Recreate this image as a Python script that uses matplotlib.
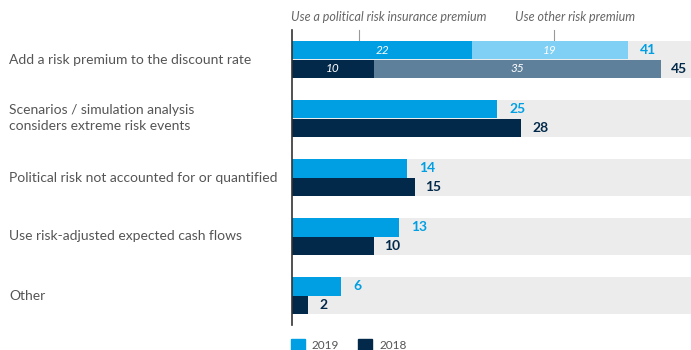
import numpy as np
import matplotlib.pyplot as plt
from matplotlib.patches import Patch

plt.rcParams['font.family'] = ['Lato', 'DejaVu Sans']

categories = ["Add a risk premium to the discount rate",
              "Scenarios / simulation analysis\nconsiders extreme risk events",
              "Political risk not accounted for or quantified",
              "Use risk-adjusted expected cash flows",
              "Other"]
vals_2019 = [41, 25, 14, 13, 6]
vals_2018 = [45, 28, 15, 10, 2]
# split of the first row: political risk insurance premium / other risk premium
split_2019 = [22, 19]
split_2018 = [10, 35]

c19 = '#009fe3'
c19_light = '#80cff4'
c18 = '#03294a'
c18_light = '#5f809b'
grey = '#ececec'

fig = plt.figure(figsize=(6.91, 3.5), dpi=100)
ax = fig.add_axes([292 / 691, 1 - 325 / 350, 1 - 292 / 691, 295 / 350])

xmax = 48.7
h = 0.31
y = np.arange(len(categories)) + 0.5

ax.barh(y, xmax, height=2 * h, color=grey, zorder=0)
ax.barh(y - h / 2, vals_2019, height=h, color=c19, zorder=2)
ax.barh(y + h / 2, vals_2018, height=h, color=c18, zorder=2)

# stacked first row
ax.barh(y[0] - h / 2, split_2019[1], left=split_2019[0], height=h, color=c19_light, zorder=3)
ax.barh(y[0] + h / 2, split_2018[1], left=split_2018[0], height=h, color=c18_light, zorder=3)
for yy, parts in [(y[0] - h / 2, split_2019), (y[0] + h / 2, split_2018)]:
    ax.text(parts[0] / 2, yy, str(parts[0]), color='white', style='italic',
            ha='center', va='center', fontsize=8.5, zorder=4)
    ax.text(parts[0] + parts[1] / 2, yy, str(parts[1]), color='white', style='italic',
            ha='center', va='center', fontsize=8.5, zorder=4)

for i in range(len(categories)):
    ax.text(vals_2019[i] + 1.5, y[i] - h / 2, str(vals_2019[i]), color=c19,
            fontweight='bold', ha='left', va='center', fontsize=10)
    ax.text(vals_2018[i] + 1.3, y[i] + h / 2, str(vals_2018[i]), color=c18,
            fontweight='bold', ha='left', va='center', fontsize=10)
    ax.text(-34.5, y[i], categories[i], color='#555555', ha='left', va='center',
            fontsize=10, linespacing=1.4)

# annotations above first row
for xx, txt, tx in [(8.2, "Use a political risk insurance premium", 11.8),
                    (32.0, "Use other risk premium", 34.6)]:
    ax.plot([xx, xx], [0, 0.2], color='#999999', lw=0.8, clip_on=False, zorder=1)
    ax.text(tx, -0.22, txt, color='#666666', style='italic', ha='center',
            va='center', fontsize=9)

ax.set_xlim(0, xmax)
ax.set_ylim(5, 0)
ax.set_xticks([])
ax.set_yticks([])
for s in ['top', 'right', 'bottom']:
    ax.spines[s].set_visible(False)
ax.spines['left'].set_color('#333333')
ax.spines['left'].set_linewidth(1.2)

handles = [Patch(color=c19, label='2019'), Patch(color=c18, label='2018')]
fig.legend(handles=handles, loc='center left', bbox_to_anchor=(280 / 691, 1 - 345 / 350),
           ncol=2, frameon=False, fontsize=8.5, handlelength=1.2, handleheight=1.2,
           columnspacing=1.6, handletextpad=0.6, labelcolor='#555555')

fig.savefig('out.png', dpi=100)
